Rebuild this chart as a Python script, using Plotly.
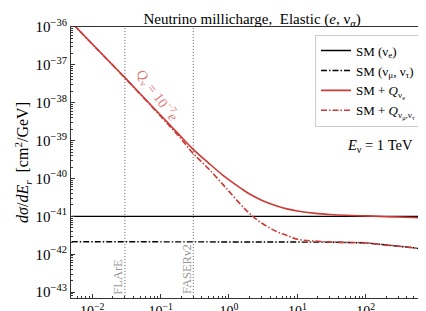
import numpy as np
import plotly.graph_objects as go

# ---- data ----
E_r = [0.005, 0.01, 0.03, 0.1, 0.2, 0.3, 0.5, 0.8, 1, 1.5, 2, 3, 5, 7, 10,
       20, 30, 50, 100, 200, 300, 500, 1000]

sm_nue = [1.0e-41] * len(E_r)

sm_numutau = [2.15e-42, 2.15e-42, 2.15e-42, 2.15e-42, 2.15e-42, 2.15e-42, 2.15e-42,
              2.15e-42, 2.15e-42, 2.15e-42, 2.15e-42, 2.15e-42, 2.15e-42, 2.15e-42,
              2.14e-42, 2.11e-42, 2.09e-42, 2.04e-42, 2.0e-42, 1.76e-42, 1.64e-42,
              1.48e-42, 1.26e-42]

smq_nue = [1.30e-36, 3.55e-37, 4.60e-38, 4.68e-39, 1.26e-39, 5.89e-40, 2.59e-40,
           1.25e-40, 9.24e-41, 5.49e-41, 3.89e-41, 2.68e-41, 1.88e-41, 1.58e-41,
           1.39e-41, 1.18e-41, 1.12e-41, 1.07e-41, 1.03e-41, 9.8e-42, 9.6e-42,
           9.3e-42, 8.9e-42]

smq_numutau = [1.29e-36, 3.52e-37, 4.52e-38, 4.40e-39, 1.10e-39, 4.57e-40, 1.82e-40,
               7.23e-41, 4.58e-41, 2.02e-41, 1.19e-41, 6.68e-42, 3.96e-42, 3.15e-42,
               2.50e-42, 2.20e-42, 2.12e-42, 2.06e-42, 2.0e-42, 1.76e-42, 1.64e-42,
               1.48e-42, 1.26e-42]

detector_names = ["FLArE", "FASERν2"]
detector_E = [0.03, 0.3]

x_tickvals = [1e-2, 1e-1, 1e0, 1e1, 1e2]
x_ticktext = ["10<sup>−2</sup>", "10<sup>−1</sup>", "10<sup>0</sup>", "10<sup>1</sup>", "10<sup>2</sup>"]
y_tickvals = [1e-43, 1e-42, 1e-41, 1e-40, 1e-39, 1e-38, 1e-37, 1e-36]
y_ticktext = ["10<sup>−%d</sup>" % n for n in range(43, 35, -1)]

# ---- style ----
FONT = "Liberation Serif"
RED = "#cc3a36"
Y_LO = 7e-44

fig = go.Figure()

for name, e in zip(detector_names, detector_E):
    fig.add_trace(go.Scatter(x=[e, e], y=[1e-45, 1e-35], mode="lines",
                             line=dict(color="#555555", width=1, dash="1px,2px"),
                             showlegend=False, hoverinfo="skip"))

fig.add_trace(go.Scatter(x=E_r, y=sm_nue, mode="lines", name="SM (ν<sub>e</sub>)",
                         line=dict(color="black", width=1.4)))
fig.add_trace(go.Scatter(x=E_r, y=sm_numutau, mode="lines",
                         name="SM (ν<sub>μ</sub>, ν<sub>τ</sub>)",
                         line=dict(color="black", width=1.4, dash="6px,2px,1.5px,2px")))
fig.add_trace(go.Scatter(x=E_r, y=smq_nue, mode="lines", line_shape="spline",
                         name="SM + <i>Q</i><sub>ν<sub>e</sub></sub>",
                         line=dict(color=RED, width=1.6)))
fig.add_trace(go.Scatter(x=E_r, y=smq_numutau, mode="lines", line_shape="spline",
                         name="SM + <i>Q</i><sub>ν<sub>μ</sub>,ν<sub>τ</sub></sub>",
                         line=dict(color=RED, width=1.6, dash="6px,2px,1.5px,2px")))

minor_vals = [k * 10.0 ** n for n in range(-44, 4) for k in range(2, 10)]

fig.update_xaxes(type="log", range=[np.log10(0.00488), 2.985],
                 tickmode="array", tickvals=x_tickvals, ticktext=x_ticktext,
                 ticks="inside", ticklen=4, tickcolor="#333",
                 showline=True, linecolor="#333", linewidth=1, mirror=True,
                 showgrid=False, zeroline=False,
                 tickfont=dict(family=FONT, size=14, color="black"),
                 minor=dict(tickmode="array", tickvals=minor_vals, ticks="inside",
                            ticklen=2, tickcolor="#333", showgrid=False))
fig.update_yaxes(type="log", range=[np.log10(Y_LO), -36],
                 tickmode="array", tickvals=y_tickvals, ticktext=y_ticktext,
                 ticks="inside", ticklen=4, tickcolor="#333",
                 showline=True, linecolor="#333", linewidth=1, mirror=True,
                 showgrid=False, zeroline=False,
                 tickfont=dict(family=FONT, size=15, color="black"),
                 minor=dict(tickmode="array", tickvals=minor_vals, ticks="inside",
                            ticklen=2, tickcolor="#333", showgrid=False),
                 title=dict(text="<i>dσ</i>/<i>dE<sub>r</sub></i>  [cm<sup>2</sup>/GeV]",
                            font=dict(family=FONT, size=16, color="black"), standoff=2))

anns = [
    dict(x=np.log10(0.03) - 0.1, y=-42.59, text="FLArE", textangle=-90,
         font=dict(family=FONT, size=12.5, color="#999999")),
    dict(x=np.log10(0.3) - 0.1, y=-42.38, text="FASERν2", textangle=-90,
         font=dict(family=FONT, size=12.5, color="#999999")),
    dict(x=-1.05, y=-37.80, text="<i>Q</i><sub>ν</sub> = 10<sup>−7</sup><i>e</i>",
         textangle=54, font=dict(family=FONT, size=14, color="#e07a76")),
    dict(x=2.21, y=-39.14, text="<i>E</i><sub>ν</sub> = 1 TeV",
         font=dict(family=FONT, size=14.5, color="black")),
]
for a in anns:
    a.update(xref="x", yref="y", showarrow=False, xanchor="center", yanchor="middle")
    fig.add_annotation(**a)

fig.update_layout(
    width=426, height=311,
    margin=dict(l=63, r=1, t=19, b=21),
    paper_bgcolor="white", plot_bgcolor="white",
    font=dict(family=FONT, color="black"),
    title=dict(text="Neutrino millicharge,  Elastic (<i>e</i>, ν<sub>α</sub>)",
               x=0.573, xanchor="center", y=0.967, yanchor="middle",
               font=dict(family=FONT, size=15, color="black")),
    legend=dict(x=0.674, y=0.972, xanchor="left", yanchor="top",
                bgcolor="rgba(255,255,255,0.9)", bordercolor="#cccccc", borderwidth=1,
                font=dict(family=FONT, size=13, color="black"), itemwidth=30,
                tracegroupgap=0),
    showlegend=True,
)

fig.write_html("out.html")
